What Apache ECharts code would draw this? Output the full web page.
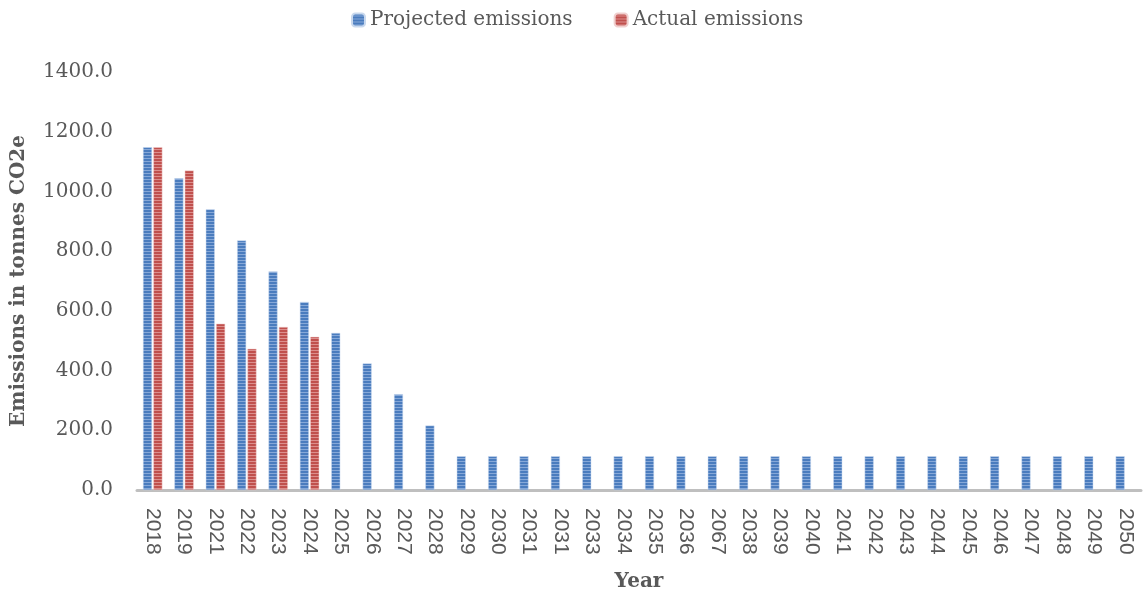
<!DOCTYPE html>
<html>
<head>
<meta charset="utf-8">
<script src="https://cdn.jsdelivr.net/npm/echarts@6/dist/echarts.min.js"></script>
<style>
  html, body { margin: 0; padding: 0; background: #fff; }
  #chart { width: 1145px; height: 597px; }
</style>
</head>
<body>
<div id="chart"></div>
<script>
  // categories as printed on the axis (incl. the odd 2031 / 2067 labels)
  var years = ['2018','2019','2021','2022','2023','2024','2025','2026','2027','2028',
    '2029','2030','2031','2031','2033','2034','2035','2036','2067','2038','2039',
    '2040','2041','2042','2043','2044','2045','2046','2047','2048','2049','2050'];
  var projected = [1148, 1044, 940, 836, 732, 630, 526, 424, 321, 216,
    113, 113, 113, 113, 113, 113, 113, 113, 113, 113, 113,
    113, 113, 113, 113, 113, 113, 113, 113, 113, 113, 113];
  var actual = [1148, 1070, 557, 473, 546, 513];
  var yTicks = [0, 200, 400, 600, 800, 1000, 1200, 1400];

  // striped fill like the excel pattern
  function stripes(dark, light) {
    var c = document.createElement('canvas');
    c.width = 4; c.height = 3;
    var ctx = c.getContext('2d');
    ctx.fillStyle = light; ctx.fillRect(0, 0, 4, 3);
    ctx.fillStyle = dark; ctx.fillRect(0, 0, 4, 2);
    return { image: c, repeat: 'repeat' };
  }

  var chart = echarts.init(document.getElementById('chart'));
  chart.setOption({
    animation: false,
    legend: {
      top: 5,
      left: 346,
      itemWidth: 13,
      itemHeight: 13,
      itemGap: 41,
      textStyle: { fontFamily: 'DejaVu Serif', fontSize: 20, color: '#595959' },
      data: ['Projected emissions', 'Actual emissions']
    },
    grid: { left: 137, right: 4, top: 72, bottom: 103 },
    xAxis: {
      type: 'category',
      data: years,
      name: 'Year',
      nameLocation: 'middle',
      nameGap: 82,
      nameTextStyle: { fontFamily: 'DejaVu Serif', fontWeight: 'bold', fontSize: 20, color: '#595959' },
      axisLine: { lineStyle: { color: '#bfbfbf', width: 3 } },
      axisTick: { show: false },
      axisLabel: {
        rotate: -90,
        interval: 0,
        margin: 18,
        fontFamily: 'Liberation Sans',
        fontSize: 21,
        color: '#595959'
      }
    },
    yAxis: {
      type: 'value',
      min: yTicks[0],
      max: yTicks[yTicks.length - 1],
      interval: 200,
      name: 'Emissions in tonnes CO2e',
      nameLocation: 'middle',
      nameGap: 108,
      nameTextStyle: { fontFamily: 'DejaVu Serif', fontWeight: 'bold', fontSize: 20, color: '#595959' },
      axisLine: { show: false },
      axisTick: { show: false },
      splitLine: { show: false },
      axisLabel: {
        margin: 24,
        fontFamily: 'DejaVu Serif',
        fontSize: 20,
        color: '#595959',
        formatter: function (v) { return v.toFixed(1); }
      }
    },
    series: [
      {
        name: 'Projected emissions',
        type: 'bar',
        barWidth: 9,
        barGap: '15%',
        itemStyle: { color: stripes('#4a7cbe', '#86a8d8'), borderColor: '#c9d9ee', borderWidth: 0.5 },
        data: projected
      },
      {
        name: 'Actual emissions',
        type: 'bar',
        barWidth: 9,
        barGap: '15%',
        itemStyle: { color: stripes('#c0504d', '#dc8f8d'), borderColor: '#f0cfce', borderWidth: 0.5 },
        data: actual
      }
    ]
  });
</script>
</body>
</html>
